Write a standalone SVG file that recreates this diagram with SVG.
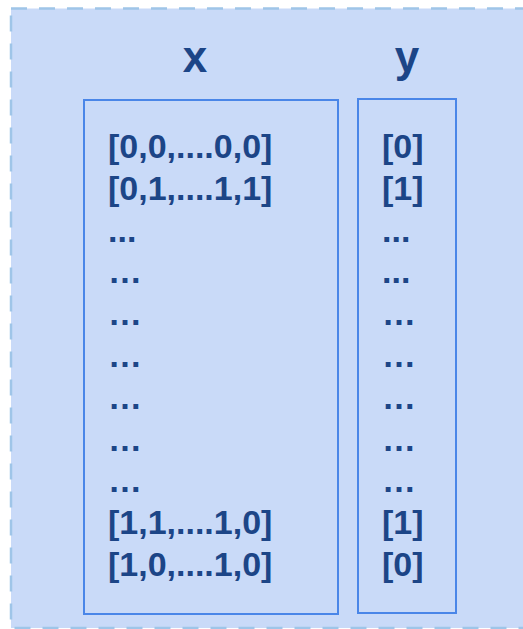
<svg xmlns="http://www.w3.org/2000/svg" width="523" height="629" viewBox="0 0 523 629">
  <style>
    .frame { fill: #c9daf8; stroke: #9fc5e8; stroke-width: 2.5; stroke-dasharray: 16 12; }
    .box { fill: none; stroke: #4a86e8; stroke-width: 2; }
    .t { font-family: 'Liberation Sans', sans-serif; font-weight: 700; fill: #1c4587; }
    .title { font-size: 44px; text-anchor: middle; }
    .row { font-size: 34px; }
  </style>
  <rect class="frame" x="11" y="8.5" width="540" height="619.5"/>
  <g id="x-column">
    <text class="t title" x="195" y="72">x</text>
    <rect class="box" x="84" y="100" width="254" height="514"/>
    <text class="t row" x="108">
      <tspan x="108" y="158">[0,0,....0,0]</tspan>
      <tspan x="108" y="199.8">[0,1,....1,1]</tspan>
      <tspan x="108" y="241.6">...</tspan>
      <tspan x="108" y="283.4">…</tspan>
      <tspan x="108" y="325.2">…</tspan>
      <tspan x="108" y="367">…</tspan>
      <tspan x="108" y="408.8">…</tspan>
      <tspan x="108" y="450.6">…</tspan>
      <tspan x="108" y="492.4">…</tspan>
      <tspan x="108" y="534.2">[1,1,....1,0]</tspan>
      <tspan x="108" y="576">[1,0,....1,0]</tspan>
    </text>
  </g>
  <g id="y-column">
    <text class="t title" x="407" y="72">y</text>
    <rect class="box" x="358" y="99" width="98" height="514"/>
    <text class="t row" x="382">
      <tspan x="382" y="158">[0]</tspan>
      <tspan x="382" y="199.8">[1]</tspan>
      <tspan x="382" y="241.6">...</tspan>
      <tspan x="382" y="283.4">...</tspan>
      <tspan x="382" y="325.2">…</tspan>
      <tspan x="382" y="367">…</tspan>
      <tspan x="382" y="408.8">…</tspan>
      <tspan x="382" y="450.6">…</tspan>
      <tspan x="382" y="492.4">…</tspan>
      <tspan x="382" y="534.2">[1]</tspan>
      <tspan x="382" y="576">[0]</tspan>
    </text>
  </g>
  <g id="connectors"/>
</svg>
